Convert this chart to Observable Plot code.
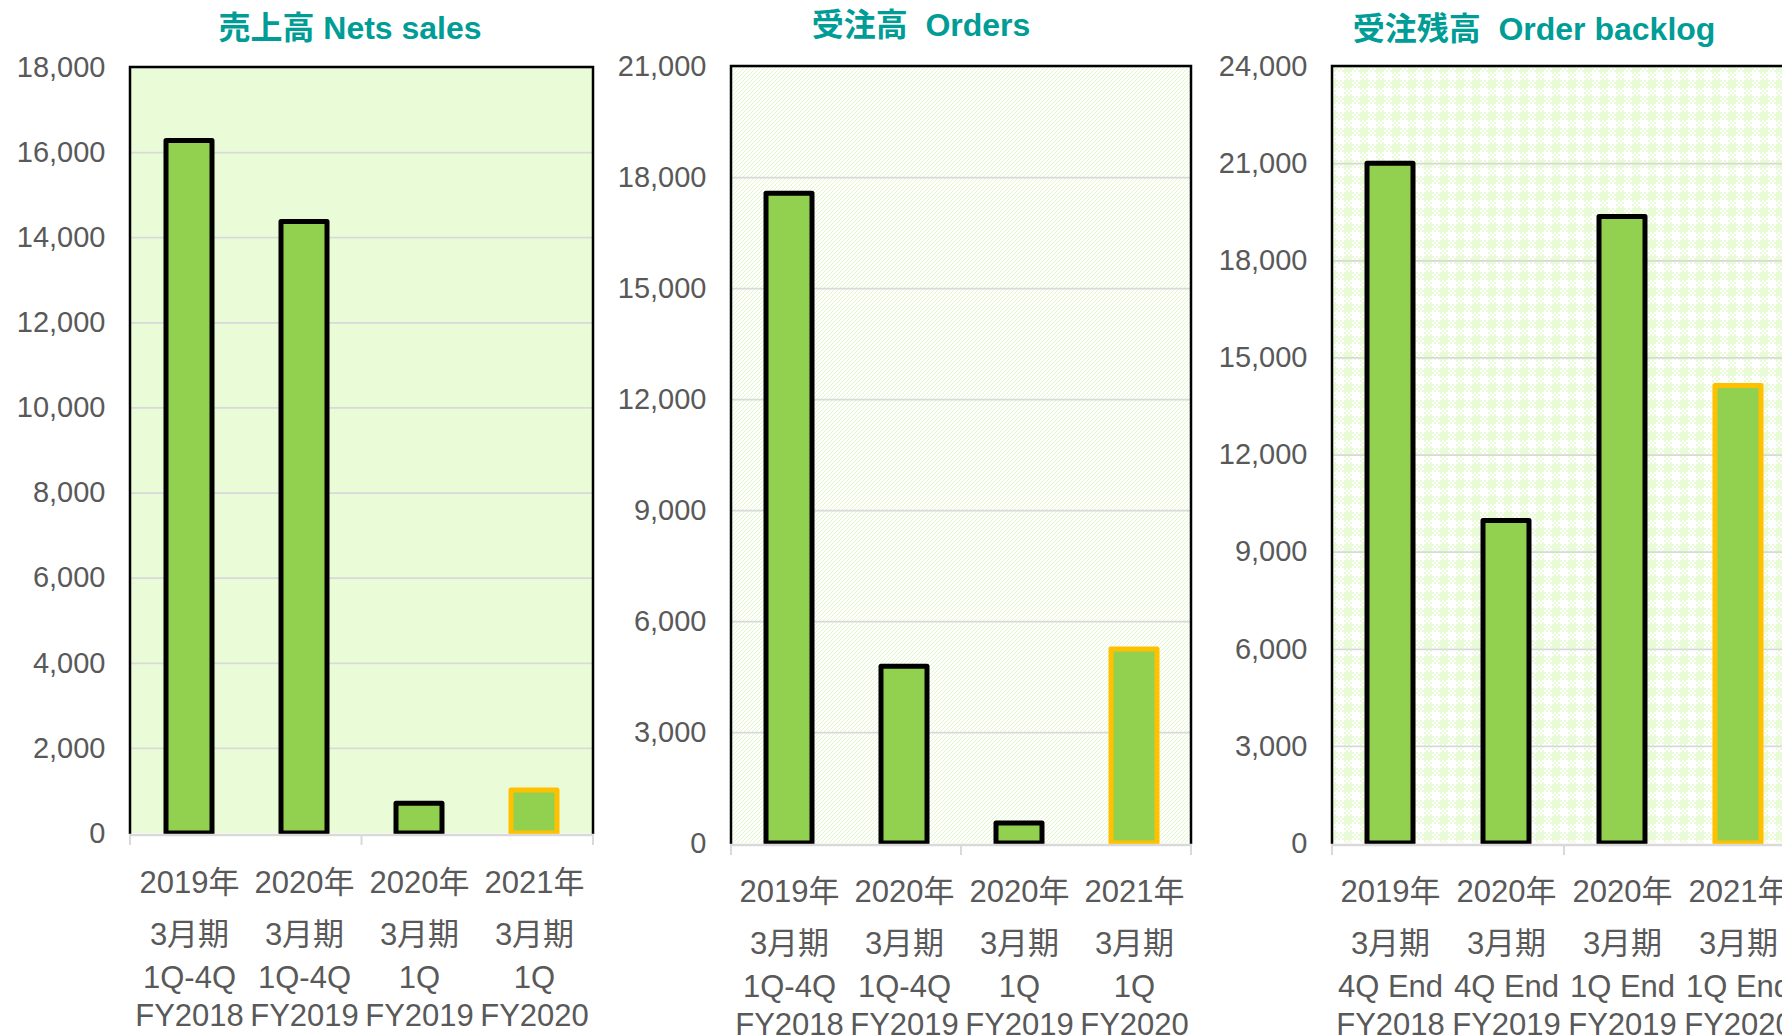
<!DOCTYPE html>
<html><head><meta charset="utf-8">
<script src="https://cdn.jsdelivr.net/npm/d3@7"></script>
<script src="https://cdn.jsdelivr.net/npm/@observablehq/plot@0.6"></script>
<style>
html,body{margin:0;padding:0;background:#fff;overflow:hidden;}
#wrap{position:relative;width:1782px;height:1035px;overflow:hidden;font-family:"Liberation Sans",Arial,"Noto Sans CJK JP",sans-serif;}
.chart{position:absolute;top:0;}
.title{position:absolute;font-weight:bold;font-size:32px;color:#009c96;white-space:pre;transform:translate(-50%,-50%);line-height:1;font-family:"Liberation Sans",Arial,"Noto Sans CJK JP",sans-serif;}
</style></head><body><div id="wrap"></div>
<script>
// ---- data ----
const line1 = ["2019年", "2020年", "2020年", "2021年"];
const line2 = ["3月期", "3月期", "3月期", "3月期"];
const line3Flow = ["1Q-4Q", "1Q-4Q", "1Q", "1Q"];
const line3Backlog = ["4Q End", "4Q End", "1Q End", "1Q End"];
const line4 = ["FY2018", "FY2019", "FY2019", "FY2020"];
const highlight = [false, false, false, true];

const netSales = [16270, 14370, 700, 1010];
const orders = [17560, 4780, 540, 5240];
const backlog = [21000, 9960, 19350, 14130];

const salesTicks = [0, 2000, 4000, 6000, 8000, 10000, 12000, 14000, 16000, 18000];
const ordersTicks = [0, 3000, 6000, 9000, 12000, 15000, 18000, 21000];
const backlogTicks = [0, 3000, 6000, 9000, 12000, 15000, 18000, 21000, 24000];

const titles = ["売上高 Nets sales", "受注高  Orders", "受注残高  Order backlog"];

// ---- helpers ----
const FONT = '"Liberation Sans", Arial, "Noto Sans CJK JP", sans-serif';
const GREEN = "#92d050";
const GRID = "#d9d9d9";
const TXT = "#595959";

function background(kind) {
  return (index, scales, values, dims) => {
    const {width, height, marginLeft: ml, marginRight: mr, marginTop: mt, marginBottom: mb} = dims;
    const g = d3.create("svg:g");
    let fill = "#eafcd7";
    if (kind === "diag") {
      const defs = g.append("defs");
      const p = defs.append("pattern").attr("id", "patDiag").attr("patternUnits", "userSpaceOnUse")
        .attr("width", 4).attr("height", 4);
      p.append("rect").attr("width", 4).attr("height", 4).attr("fill", "#ffffff");
      p.append("path").attr("d", "M-1,1L1,-1M0,4L4,0M3,5L5,3")
        .attr("stroke", "#dcf6c2").attr("stroke-width", 0.9);
      fill = "url(#patDiag)";
    } else if (kind === "plaid") {
      const C = "#e8fbd6";
      const defs = g.append("defs");
      const p = defs.append("pattern").attr("id", "patPlaid").attr("patternUnits", "userSpaceOnUse")
        .attr("width", 16).attr("height", 16);
      p.append("rect").attr("width", 16).attr("height", 16).attr("fill", "#ffffff");
      p.append("rect").attr("x", 0).attr("y", 0).attr("width", 8).attr("height", 8).attr("fill", C);
      p.append("rect").attr("x", 0).attr("y", 8).attr("width", 8).attr("height", 8).attr("fill", C);
      for (let y = 0; y < 16; y += 2) for (let x = 8; x < 16; x += 2) {
        if (y < 8 && ((x + y) / 2) % 2 === 0)
          p.append("rect").attr("x", x).attr("y", y).attr("width", 2).attr("height", 2).attr("fill", C);
      }
      for (let y = 8; y < 16; y += 2) for (let x = 0; x < 8; x += 2) {
        if (((x + y) / 2) % 2 === 1)
          p.append("rect").attr("x", x).attr("y", y).attr("width", 2).attr("height", 2).attr("fill", "#ffffff");
      }
      fill = "url(#patPlaid)";
    }
    g.append("rect").attr("x", ml).attr("y", mt).attr("width", width - ml - mr)
      .attr("height", height - mt - mb).attr("fill", fill);
    return g.node();
  };
}

function borders(n) {
  return (index, scales, values, dims) => {
    const {width, height, marginLeft: ml, marginRight: mr, marginTop: mt, marginBottom: mb} = dims;
    const x0 = ml, x1 = width - mr, y0 = mt, y1 = height - mb;
    const g = d3.create("svg:g");
    g.append("path").attr("d", `M${x0},${y1 + 1}V${y0}H${x1}V${y1 + 1}`)
      .attr("fill", "none").attr("stroke", "#000").attr("stroke-width", 2.5);
    g.append("line").attr("x1", x0 - 1).attr("x2", x1 + 1).attr("y1", y1 + 2).attr("y2", y1 + 2)
      .attr("stroke", GRID).attr("stroke-width", 2.5);
    for (let k = 0; k <= n; k += 2) {
      const x = x0 + (x1 - x0) * k / n;
      g.append("line").attr("x1", x).attr("x2", x).attr("y1", y1 + 2).attr("y2", y1 + 12)
        .attr("stroke", GRID).attr("stroke-width", 2);
    }
    return g.node();
  };
}

function makeChart(cfg) {
  const keys = line1.map((d, i) => `${d} ${line2[i]} ${cfg.line3[i]} ${line4[i]}`);
  const rows = keys.map((k, i) => ({
    key: k, value: cfg.values[i], hl: highlight[i],
    l1: line1[i], l2: line2[i], l3: cfg.line3[i], l4: line4[i]
  }));
  const lbl = (field, dy) => Plot.text(rows, {
    x: "key", text: field, frameAnchor: "bottom", dy, fontSize: 31, fill: TXT, fontFamily: FONT
  });
  const plot = Plot.plot({
    width: cfg.width, height: 1035,
    marginLeft: cfg.ml, marginRight: cfg.mr, marginTop: cfg.mt, marginBottom: cfg.mb,
    style: {fontFamily: FONT, fontSize: "29px", color: TXT, background: "transparent", overflow: "visible"},
    x: {type: "band", domain: keys, paddingInner: 0.6, paddingOuter: 0.3, axis: null},
    y: {domain: [0, cfg.ticks[cfg.ticks.length - 1]], ticks: cfg.ticks, tickSize: 0, tickPadding: 25,
        tickFormat: d3.format(","), label: null},
    marks: [
      background(cfg.bg),
      Plot.ruleY(cfg.ticks.slice(1), {stroke: GRID, strokeWidth: 1.75}),
      Plot.barY(rows.filter(d => !d.hl), {x: "key", y: "value", fill: GREEN, stroke: "#000",
        strokeWidth: 5, strokeLinejoin: "round"}),
      Plot.barY(rows.filter(d => d.hl), {x: "key", y: "value", fill: GREEN, stroke: "#ffc000",
        strokeWidth: 5, strokeLinejoin: "round"}),
      borders(keys.length),
      lbl("l1", cfg.dys[0]), lbl("l2", cfg.dys[1]), lbl("l3", cfg.dys[2]), lbl("l4", cfg.dys[3])
    ]
  });
  plot.classList.add("chart");
  plot.style.left = cfg.left + "px";
  return plot;
}

const wrap = document.getElementById("wrap");
wrap.appendChild(makeChart({left: 0, width: 600, ml: 130, mr: 7, mt: 67, mb: 202,
  values: netSales, ticks: salesTicks, line3: line3Flow, bg: "solid", dys: [59, 111, 154, 192]}));
wrap.appendChild(makeChart({left: 600, width: 600, ml: 131, mr: 9, mt: 66, mb: 192,
  values: orders, ticks: ordersTicks, line3: line3Flow, bg: "diag", dys: [58, 110, 153, 191]}));
wrap.appendChild(makeChart({left: 1200, width: 600, ml: 132, mr: 4, mt: 66, mb: 192,
  values: backlog, ticks: backlogTicks, line3: line3Backlog, bg: "plaid", dys: [58, 110, 153, 191]}));

const titlePos = [[350, 28], [921, 25], [1534, 29]];
titles.forEach((t, i) => {
  const d = document.createElement("div");
  d.className = "title";
  d.textContent = t;
  d.style.left = titlePos[i][0] + "px";
  d.style.top = titlePos[i][1] + "px";
  wrap.appendChild(d);
});
</script>
</body></html>
